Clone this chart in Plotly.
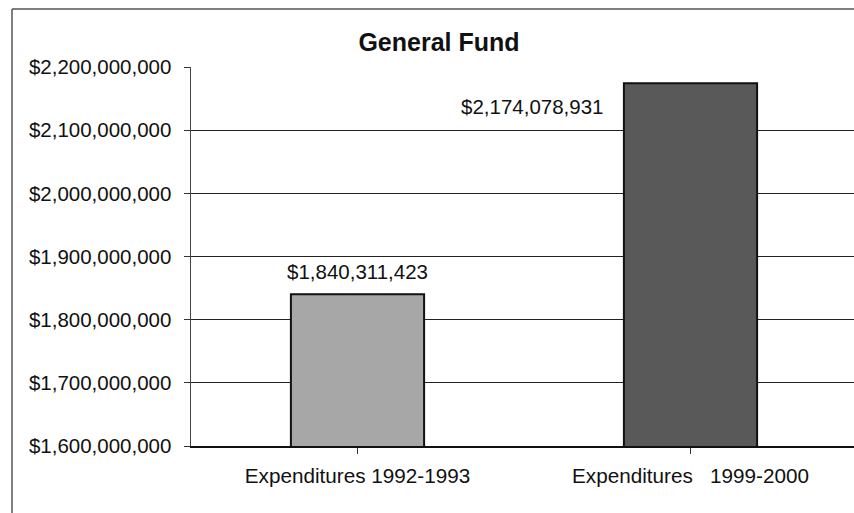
import plotly.graph_objects as go

categories = ["Expenditures 1992-1993", "Expenditures\u00a0\u00a0 1999-2000"]
values = [1840311423, 2174078931]
value_labels = ["$1,840,311,423", "$2,174,078,931"]
bar_colors = ["#a7a7a7", "#595959"]
tick_vals = [1600000000, 1700000000, 1800000000, 1900000000, 2000000000, 2100000000, 2200000000]
tick_text = ["$1,600,000,000", "$1,700,000,000", "$1,800,000,000", "$1,900,000,000",
             "$2,000,000,000", "$2,100,000,000", "$2,200,000,000"]
title_text = "General Fund"

FONT = "Liberation Sans, Arial, sans-serif"

# body margin is removed by post_script, so figure coords == screen coords
W, H = 854, 513
L, R, T, B = 191, 0, 67, 513 - 446
pw, ph = W - L - R, H - T - B

fig = go.Figure()
fig.add_trace(go.Bar(
    x=[0, 1], y=values, width=0.4,
    marker=dict(color=bar_colors, line=dict(color="#111111", width=2)),
    hoverinfo="skip",
))

shifts = [(0, 23), (-158, -23)]
for i, (v, lab) in enumerate(zip(values, value_labels)):
    fig.add_annotation(x=i, y=v, text=lab, showarrow=False,
                       xshift=shifts[i][0], yshift=shifts[i][1],
                       xanchor="center", yanchor="middle",
                       font=dict(family=FONT, size=20.5, color="#111111"))


def px2paper_x(px):
    return (px - L) / pw


def py2paper_y(py):
    return (H - B - py) / ph


fig.add_shape(type="line", xref="paper", yref="paper",
              x0=px2paper_x(12), x1=px2paper_x(870), y0=py2paper_y(9), y1=py2paper_y(9),
              line=dict(color="#555555", width=1.5))
fig.add_shape(type="line", xref="paper", yref="paper",
              x0=px2paper_x(12), x1=px2paper_x(12), y0=py2paper_y(9), y1=py2paper_y(530),
              line=dict(color="#555555", width=1.5))

fig.update_layout(
    width=W, height=H,
    margin=dict(l=L, r=R, t=T, b=B),
    paper_bgcolor="white", plot_bgcolor="white",
    showlegend=False,
    title=dict(text="<b>" + title_text + "</b>", x=439 / W, xanchor="center",
               xref="container", yref="container", y=1 - 42 / H, yanchor="middle",
               font=dict(family=FONT, size=25, color="#111111")),
    font=dict(family=FONT, color="#111111"),
)
fig.update_xaxes(
    range=[-0.5, -0.5 + pw / 333.0],
    tickmode="array", tickvals=[0, 1], ticktext=categories,
    tickson="boundaries", ticks="outside", ticklen=6, tickcolor="#333333",
    showline=True, linecolor="#111111", linewidth=1.5,
    showgrid=False, zeroline=False,
    tickfont=dict(family=FONT, size=20.7, color="#111111"),
    ticklabelstandoff=5,
)
fig.update_yaxes(
    range=[1600000000, 2200000000],
    tickmode="array", tickvals=tick_vals, ticktext=tick_text,
    ticks="outside", ticklen=6, tickcolor="#333333",
    showline=True, linecolor="#444444", linewidth=1.5,
    showgrid=True, gridcolor="#222222", gridwidth=1,
    zeroline=False,
    tickfont=dict(family=FONT, size=20.5, color="#111111"),
    ticklabelstandoff=8,
)

fig.write_html("out.html",
               config={"displayModeBar": False, "staticPlot": True},
               post_script="document.body.style.margin='0';document.body.style.overflow='hidden';")
